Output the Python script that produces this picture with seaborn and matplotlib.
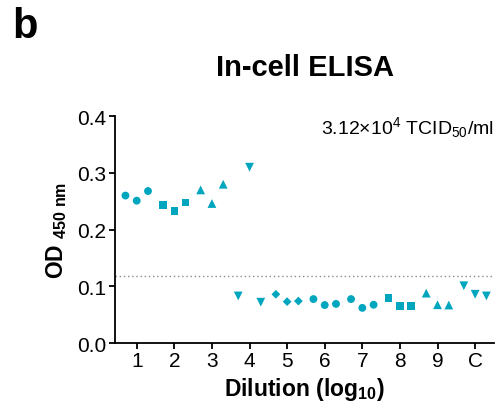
import matplotlib
matplotlib.use("Agg")
import matplotlib.pyplot as plt
import pandas as pd
import seaborn as sns

# Data (three replicates per dilution)
dilutions = ['1', '2', '3', '4', '5', '6', '7', '8', '9', 'C']
shapes = ['o', 's', '^', 'v', 'D', 'o', 'o', 's', '^', 'v']
od_values = [
    [0.260, 0.251, 0.268],
    [0.243, 0.233, 0.248],
    [0.270, 0.246, 0.280],
    [0.083, 0.310, 0.072],
    [0.086, 0.073, 0.074],
    [0.0775, 0.067, 0.069],
    [0.0775, 0.062, 0.0675],
    [0.079, 0.065, 0.065],
    [0.088, 0.0675, 0.067],
    [0.101, 0.086, 0.083],
]
cutoff = 0.1175
y_ticks = [0.0, 0.1, 0.2, 0.3, 0.4]

COLOR = "#00A6BD"


def setup_plot_style():
    sns.set_theme(style="ticks")
    plt.rcParams.update({
        'font.family': ['Liberation Sans', 'DejaVu Sans'],
        'text.color': 'black',
        'axes.labelcolor': 'black',
        'mathtext.fontset': 'custom',
        'mathtext.rm': 'Liberation Sans',
        'mathtext.bf': 'Liberation Sans:bold',
        'mathtext.it': 'Liberation Sans:italic',
        'axes.linewidth': 1.3,
        'xtick.major.width': 1.3,
        'ytick.major.width': 1.3,
        'xtick.major.size': 4,
        'ytick.major.size': 4,
    })


def plot_elisa():
    rows = []
    for i, (d, m, vals) in enumerate(zip(dilutions, shapes, od_values)):
        for rep, v in enumerate(vals):
            rows.append({'Dilution': d, 'pos': i + 1 + (rep - 1) * 0.3,
                         'Shape': m, 'OD': v})
    df = pd.DataFrame(rows)

    fig = plt.figure(figsize=(5.04, 4.14), dpi=100)
    ax = fig.add_axes([0.228, 0.169, 0.752, 0.548])

    ax.axhline(cutoff, color='#888888', linestyle=(0, (1, 2)), linewidth=1.0, zorder=1)

    marker_sizes = {'o': 32, 's': 30, '^': 40, 'v': 40, 'D': 20}
    sns.scatterplot(data=df, x='pos', y='OD', style='Shape', size='Shape',
                    markers={m: m for m in set(shapes)}, sizes=marker_sizes,
                    color=COLOR, linewidth=0, legend=False, ax=ax, zorder=3)

    ax.set_xlim(0.42, 10.5)
    ax.set_ylim(0, 0.4)
    ax.set_xticks(range(1, len(dilutions) + 1))
    ax.set_xticklabels(dilutions)
    ax.set_yticks(y_ticks)
    ax.set_yticklabels([f"{t:.1f}" for t in y_ticks])
    ax.tick_params(labelsize=15, colors='black', pad=2)
    sns.despine(ax=ax)
    for s in ['left', 'bottom']:
        ax.spines[s].set_color('black')

    ax.set_xlabel(r"Dilution (log$_{\mathbf{10}}$)", fontsize=16.5, fontweight='bold', labelpad=3)
    ax.set_ylabel(r"OD $_{\mathbf{450\ nm}}$", fontsize=16.5, fontweight='bold', labelpad=6)

    ax.text(1.0, 0.955, r"3.12×10$^{4}$ TCID$_{50}$/ml", transform=ax.transAxes,
            ha='right', va='center', fontsize=14)

    fig.text(0.606, 0.836, "In-cell ELISA", ha='center', va='center',
             fontsize=21, fontweight='bold')
    fig.text(0.024, 0.935, "b", ha='left', va='center', fontsize=30, fontweight='bold')

    fig.savefig("out.png", dpi=100)


if __name__ == "__main__":
    setup_plot_style()
    plot_elisa()
